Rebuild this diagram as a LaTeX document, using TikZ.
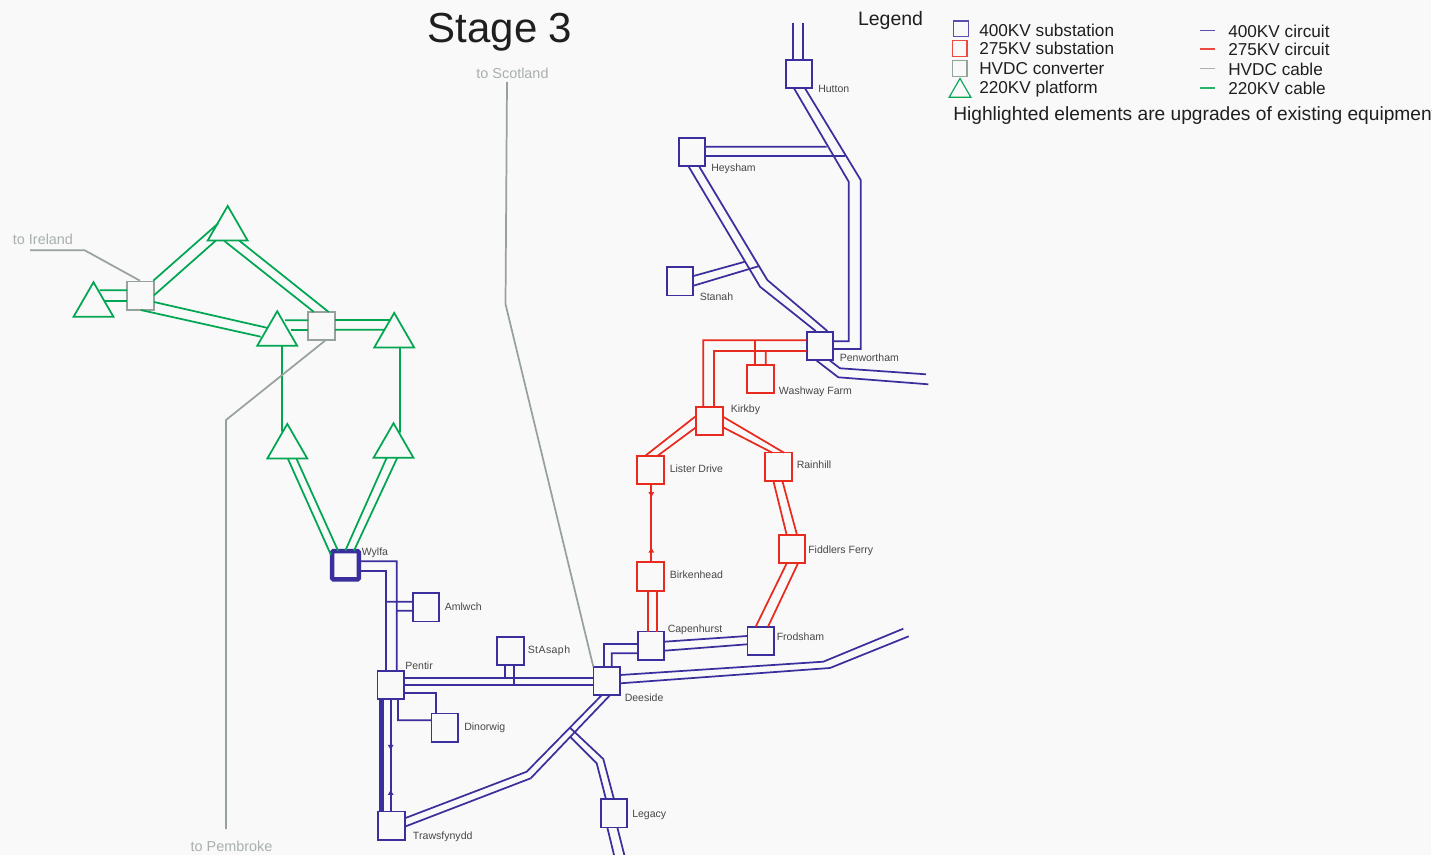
\documentclass[tikz,border=0pt]{standalone}
\usepackage{fontspec}
\setmainfont{Liberation Sans}
\newfontfamily\lblfont[Kerning=Off]{Liberation Sans}
\usepackage{xcolor}
\usetikzlibrary{arrows.meta,calc,shapes.geometric,decorations.markings}
\definecolor{bgfill}{HTML}{F9F9F9}
\definecolor{c400}{HTML}{3A2F9C}
\definecolor{c275}{HTML}{E92A1E}
\definecolor{chvdc}{HTML}{98A29C}
\definecolor{c220}{HTML}{00A651}
\tikzset{
  box/.style={rectangle, draw, fill=bgfill, line width=1.3pt, inner sep=0pt,
              minimum width=20pt, minimum height=21.2pt},
  sub400/.style={box, draw=c400},
  sub275/.style={box, draw=c275},
  conv/.style={box, draw=chvdc},
  platform/.style={regular polygon, regular polygon sides=3, draw=c220, fill=bgfill,
                   line width=1.3pt, inner sep=0pt, minimum size=34.6pt},
  l400/.style={draw=c400, line width=1.3pt},
  l275/.style={draw=c275, line width=1.3pt},
  lhvdc/.style={draw=chvdc, line width=1.3pt},
  l220/.style={draw=c220, line width=1.3pt},
  markd/.style 2 args={postaction={decorate}, decoration={markings,
      mark=at position #1 with {\arrow{Latex[length=4.4pt,width=4.6pt]}},
      mark=at position #2 with {\arrowreversed{Latex[length=4.4pt,width=4.6pt]}}}},
  lbl/.style={anchor=west, inner sep=0pt, text=black!72, font=\lblfont\fontsize{7.9}{9}\selectfont},
  far/.style={inner sep=0pt, text=chvdc!85!white, font=\fontsize{10.8}{13}\selectfont},
  leg/.style={anchor=west, inner sep=0pt, text=black!88, font=\fontsize{12.9}{15}\selectfont},
}
\begin{document}
\begin{tikzpicture}[x=0.75pt,y=-0.75pt]
\useasboundingbox (0,0) rectangle (1446,855);
\fill[white] (0,0) rectangle (1446,855);
\fill[bgfill] (0,0) rectangle (1431,855);
\node[inner sep=0pt, text=black!88, font=\fontsize{31.5}{36}\selectfont] (title) at (500,32.5) {Stage 3};
\node[sub400] (hutton) at (799,74) {};
\node[sub400] (heysham) at (692,152) {};
\node[sub400] (stanah) at (680,281.5) {};
\node[sub400] (penwortham) at (820,346) {};
\node[sub275] (washway) at (760.4,379) {};
\node[sub275] (kirkby) at (709.3,421) {};
\node[sub275] (lister) at (650.3,470) {};
\node[sub275] (rainhill) at (778.3,466.7) {};
\node[sub275] (fiddlers) at (792,549) {};
\node[sub275, line width=1.6pt] (birkenhead) at (650.5,576.5) {};
\node[sub400] (capenhurst) at (651,645.7) {};
\node[sub400] (frodsham) at (760.7,641) {};
\node[sub400] (deeside) at (606.8,681) {};
\node[sub400, line width=3.4pt, rounded corners=1pt] (wylfa) at (345.5,565.3) {};
\node[sub400] (amlwch) at (426,607.3) {};
\node[sub400] (stasaph) at (510.3,650.8) {};
\node[sub400] (pentir) at (390.8,685) {};
\node[sub400] (dinorwig) at (444.7,727.5) {};
\node[sub400] (trawsfynydd) at (391.3,825.7) {};
\node[sub400] (legacy) at (614,813.3) {};
\node[conv] (hvdca) at (140.5,295.7) {};
\node[conv] (hvdcb) at (321.5,326) {};
\node[platform] (plat1) at (227.7,229) {};
\node[platform] (plat2) at (93.5,305.3) {};
\node[platform] (plat3) at (277.2,334.3) {};
\node[platform] (plat4) at (394.2,336) {};
\node[platform] (plat5) at (287.3,447) {};
\node[platform] (plat6) at (393.5,446.3) {};
\node[lbl] (lhutton) at (818,88.5) {Hutton};
\node[lbl] (lheysham) at (711,169) {Heysham};
\node[lbl] (lstanah) at (699.5,296.5) {Stanah};
\node[lbl] (lpenwortham) at (839.5,357.5) {Penwortham};
\node[lbl] (lwashway) at (778.5,391.5) {Washway Farm};
\node[lbl] (lkirkby) at (730.5,409.5) {Kirkby};
\node[lbl] (llister) at (669.5,468.5) {Lister Drive};
\node[lbl] (lrainhill) at (796.5,464.5) {Rainhill};
\node[lbl] (lfiddlers) at (808,550.5) {Fiddlers Ferry};
\node[lbl] (lbirkenhead) at (669.5,575) {Birkenhead};
\node[lbl] (lcapenhurst) at (667.5,629.5) {Capenhurst};
\node[lbl] (lfrodsham) at (776.5,636.5) {Frodsham};
\node[lbl] (ldeeside) at (624.5,697.5) {Deeside};
\node[lbl] (lstasaph) at (527.5,650.5) {\addfontfeature{LetterSpace=4}StAsaph};
\node[lbl] (lamlwch) at (444.5,606.5) {Amlwch};
\node[lbl] (lpentir) at (405,665.5) {Pentir};
\node[lbl] (ldinorwig) at (464,727.5) {Dinorwig};
\node[lbl] (ltrawsfynydd) at (412.5,836.5) {Trawsfynydd};
\node[lbl] (llegacy) at (632,814.5) {Legacy};
\node[lbl] (lwylfa) at (361.5,552.5) {Wylfa};
\node[far] (ireland) at (43,239.5) {to Ireland};
\node[far] (scotland) at (512.5,73) {to Scotland};
\node[far] (pembroke) at (231.5,846) {to Pembroke};
\coordinate (irelandend) at (30,250.3);
\coordinate (scotlandend) at (507,82);
\coordinate (pembrokeend) at (226,829);
\coordinate (northend) at (797.5,23.5);
\coordinate (eastend) at (927,379);
\coordinate (southeastend) at (906,632.5);
\coordinate (southend) at (619,855);
\draw[l220] ($(plat2)+(6,-15)$) -- ($(hvdca)+(-13.5,-5.4)$);
\draw[l220] ($(plat2)+(11.2,-4)$) -- ($(hvdca)+(-13.5,5.6)$);
\draw[l220] ($(hvdca)+(12.8,-15)$) -- ($(plat1)+(-9.4,-5.7)$);
\draw[l220] ($(hvdca)+(13.5,-0.4)$) -- ($(plat1)+(-12,11.7)$);
\draw[l220] ($(plat1)+(-3.7,11.7)$) -- ($(hvdcb)+(-7.5,-14)$);
\draw[l220] ($(plat1)+(11.6,11.7)$) -- ($(hvdcb)+(7.2,-14)$);
\draw[l220] ($(hvdca)+(13.5,6.3)$) -- ($(plat3)+(-9.2,-6.3)$);
\draw[l220] ($(hvdca)+(0.2,14.3)$) -- ($(plat3)+(-16.5,2.4)$);
\draw[l220] ($(plat3)+(7.8,-14)$) -- ($(hvdcb)+(-13.5,-5.7)$);
\draw[l220] ($(plat3)+(13.8,-4.3)$) -- ($(hvdcb)+(-13.5,4)$);
\draw[l220] ($(hvdcb)+(13.5,-5.7)$) -- ($(plat4)+(-4.2,-15.7)$);
\draw[l220] ($(hvdcb)+(13.5,3.7)$) -- ($(plat4)+(-9.2,-6.3)$);
\draw[l220] ($(plat3)+(4.8,11)$) -- ($(plat5)+(-5.3,-15.3)$);
\draw[l220] ($(plat4)+(5.8,11)$) -- ($(plat6)+(6.5,-13.6)$);
\draw[l220] ($(plat5)+(0.4,11.3)$) -- ($(wylfa)+(-14.5,-10.3)$);
\draw[l220] ($(plat5)+(9,11.3)$) -- ($(wylfa)+(-7.5,-14.6)$);
\draw[l220] ($(plat6)+(-6.8,11.4)$) -- ($(wylfa)+(-0.2,-14.6)$);
\draw[l220] ($(plat6)+(3.8,11.4)$) -- ($(wylfa)+(8.5,-14.6)$);
\draw[lhvdc] (irelandend) -- (84.7,250.3) -- ($(hvdca)+(-0.5,-15)$);
\draw[lhvdc] ($(hvdcb)+(3.5,14.7)$) -- (226,420) -- (pembrokeend);
\draw[lhvdc] (scotlandend) -- (505.5,304) -- ($(deeside)+(-13.5,-14.3)$);
\draw[l400] ($(northend)+(-4.5,0)$) -- ($(hutton)+(-6,-14.7)$);
\draw[l400] ($(northend)+(5.5,0)$) -- ($(hutton)+(4,-14.7)$);
\draw[l400] ($(hutton)+(-5,14.3)$) -- (848.7,181.7) -- (848.7,341.3) -- ($(penwortham)+(13.3,-4.7)$);
\draw[l400] ($(hutton)+(6,14.3)$) -- (860.7,180) -- (860.7,349) -- ($(penwortham)+(13.3,3)$);
\draw[l400] ($(heysham)+(13.5,-5.3)$) -- ($(hutton)+(27.7,72.7)$);
\draw[l400] ($(heysham)+(13.5,3.7)$) -- ($(hutton)+(46,81.7)$);
\draw[l400] ($(heysham)+(-3.3,14.7)$) -- (760,286.7) -- ($(penwortham)+(-4.3,-15)$);
\draw[l400] ($(heysham)+(7.3,14.7)$) -- (767.3,280) -- ($(penwortham)+(7.3,-15)$);
\draw[l400] ($(stanah)+(13.5,-5.5)$) -- ($(heysham)+(53,109.7)$);
\draw[l400] ($(stanah)+(13.5,4.2)$) -- ($(heysham)+(67.3,114)$);
\draw[l400] ($(penwortham)+(10,14.7)$) -- (840,368.3) -- ($(eastend)+(-1,-4.7)$);
\draw[l400] ($(penwortham)+(-3.3,14.7)$) -- (838.3,377.3) -- ($(eastend)+(1.3,5.3)$);
\draw[l400] ($(wylfa)+(14.5,-4)$) -- (396.7,561.3) -- ($(pentir)+(5.9,-14.3)$);
\draw[l400] ($(wylfa)+(14.5,5.7)$) -- (386,571) -- ($(pentir)+(-4.8,-14.3)$);
\draw[l400] ($(amlwch)+(-13.5,-5.6)$) -- ($(pentir)+(-4.8,-83.3)$);
\draw[l400] ($(amlwch)+(-13.5,3.4)$) -- ($(pentir)+(5.9,-74.3)$);
\draw[l400] ($(pentir)+(13.5,-6.7)$) -- ($(deeside)+(-13.5,-2.7)$);
\draw[l400] ($(pentir)+(13.5,0)$) -- ($(deeside)+(-13.5,4)$);
\draw[l400] ($(stasaph)+(-5,14.2)$) -- ($(pentir)+(114.5,-6.7)$);
\draw[l400] ($(stasaph)+(3.4,14.2)$) -- ($(pentir)+(122.9,0)$);
\draw[l400] ($(pentir)+(13.5,7.7)$) -- (435.7,692.7) -- ($(dinorwig)+(-9,-14.2)$);
\draw[l400] ($(pentir)+(7.2,14)$) -- (398,720.3) -- ($(dinorwig)+(-13.4,-7.2)$);
\draw[l400, line width=3.4pt] ($(pentir)+(-9.1,14.2)$) -- ($(trawsfynydd)+(-9.6,-14.2)$);
\draw[l400, markd={0.459}{0.80}] ($(pentir)+(-0.1,14.2)$) -- ($(trawsfynydd)+(-0.6,-14.2)$);
\draw[l400] ($(deeside)+(-5.1,14.2)$) -- (526.7,771.7) -- ($(trawsfynydd)+(13.4,-7.4)$);
\draw[l400] ($(deeside)+(3.2,14.2)$) -- (530.7,778.3) -- ($(trawsfynydd)+(13.4,1)$);
\draw[l400] ($(deeside)+(-36.8,46.7)$) -- (603.3,759) -- ($(legacy)+(0,-14)$);
\draw[l400] ($(deeside)+(-36.8,55.7)$) -- (596.7,763.3) -- ($(legacy)+(-8,-14)$);
\draw[l400] ($(legacy)+(-6.7,14)$) -- ($(southend)+(-5,0)$);
\draw[l400] ($(legacy)+(3.3,14)$) -- ($(southend)+(5.3,0)$);
\draw[l400] ($(capenhurst)+(-13.3,-1.7)$) -- (604,644) -- ($(deeside)+(-2.8,-14.3)$);
\draw[l400] ($(capenhurst)+(-13.3,7.6)$) -- (611.7,653.3) -- ($(deeside)+(4.9,-14.3)$);
\draw[l400] ($(capenhurst)+(13.3,-4)$) -- ($(frodsham)+(-13.4,-5)$);
\draw[l400] ($(capenhurst)+(13.3,5)$) -- ($(frodsham)+(-13.4,3.3)$);
\draw[l400] ($(deeside)+(13.5,-6)$) -- (823.3,661.7) -- ($(southeastend)+(-2.7,-3.8)$);
\draw[l400] ($(deeside)+(13.5,2.3)$) -- (830,668) -- ($(southeastend)+(2.7,3.8)$);
\draw[l275] ($(birkenhead)+(-2.5,14.2)$) -- ($(capenhurst)+(-3,-14)$);
\draw[l275] ($(birkenhead)+(6.5,14.2)$) -- ($(capenhurst)+(6,-14)$);
\draw[l275, markd={0.176}{0.80}] ($(lister)+(1,14.3)$) -- ($(birkenhead)+(0.8,-14.2)$);
\draw[l275] ($(fiddlers)+(-5.3,14.3)$) -- ($(frodsham)+(-5,-14.3)$);
\draw[l275] ($(fiddlers)+(6,14.3)$) -- ($(frodsham)+(7.3,-14.3)$);
\draw[l275] ($(rainhill)+(-5,14)$) -- ($(fiddlers)+(-5.3,-14)$);
\draw[l275] ($(rainhill)+(4,14)$) -- ($(fiddlers)+(5,-14)$);
\draw[l275] ($(kirkby)+(13.7,-4.3)$) -- ($(rainhill)+(5.7,-14)$);
\draw[l275] ($(kirkby)+(13.7,6.3)$) -- ($(rainhill)+(-6,-14)$);
\draw[l275] ($(kirkby)+(-13.3,-5)$) -- ($(lister)+(-5.3,-14)$);
\draw[l275] ($(kirkby)+(-13.3,6.3)$) -- ($(lister)+(7,-14)$);
\draw[l275] ($(kirkby)+(-6,-14.3)$) -- (703.3,340.3) -- ($(penwortham)+(-13.3,-5.7)$);
\draw[l275] ($(kirkby)+(4.7,-14.3)$) -- (714,351) -- ($(penwortham)+(-13.3,5)$);
\draw[l275] ($(washway)+(-5.4,-14)$) -- ($(penwortham)+(-65,-5.7)$);
\draw[l275] ($(washway)+(5.3,-14)$) -- ($(penwortham)+(-54.3,5)$);
\node[inner sep=0pt, text=black!88, font=\fontsize{14.6}{17}\selectfont] (legend) at (890.5,20.5) {Legend};
\node[box, draw=c400!85, minimum width=11pt, minimum height=11.5pt, line width=.85pt] (key400) at (961,28.7) {};
\node[box, draw=c275!85, minimum width=11pt, minimum height=11.5pt, line width=.85pt] (key275) at (959.7,48.5) {};
\node[box, draw=chvdc, minimum width=11pt, minimum height=11.5pt, line width=.85pt] (keyhvdc) at (959.7,68.5) {};
\node[platform, minimum size=18.8pt, line width=.85pt] (key220) at (960,91) {};
\node[leg] (t400s) at (979,30.5) {400KV substation};
\node[leg] (t275s) at (979,48.5) {275KV substation};
\node[leg] (thvdc) at (979,69) {HVDC converter};
\node[leg] (t220p) at (979,89) {220KV platform};
\foreach \ky/\kst/\ktxt/\kn in {30.3/c400/400KV circuit/a,49/c275/275KV circuit/b,68.3/chvdc/HVDC cable/c,88/c220/220KV cable/d}{
  \coordinate (key\kn) at (1200,\ky);
  \draw[draw=\kst!85, line width=.85pt] (key\kn) -- ++(15,0);
  \node[leg] (txt\kn) at (1228,\ky+0.7) {\ktxt};
}
\begin{scope}
\clip (0,0) rectangle (1431,855);
\node[leg, font=\fontsize{14.38}{17}\selectfont] (note) at (953,116) {Highlighted elements are upgrades of existing equipment};
\end{scope}
\end{tikzpicture}
\end{document}
